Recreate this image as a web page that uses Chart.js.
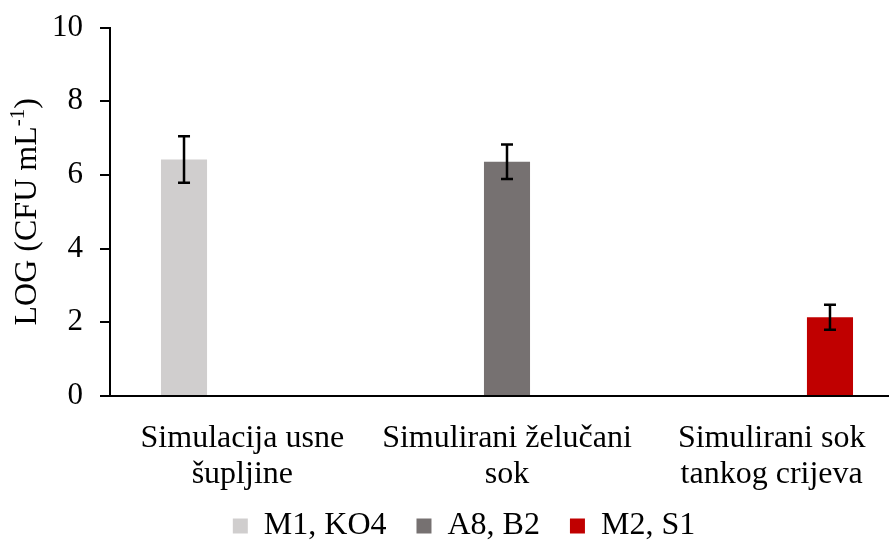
<!DOCTYPE html>
<html>
<head>
<meta charset="utf-8">
<script src="https://cdn.jsdelivr.net/npm/chart.js@4.4.1/dist/chart.umd.min.js"></script>
<style>
  html, body { margin: 0; padding: 0; background: #fff; overflow: hidden; width: 889px; height: 543px; }
  #wrap { width: 920px; height: 572px; position: relative; margin-top: -8px; }
</style>
</head>
<body>
<div id="wrap"><canvas id="c"></canvas></div>
<script>
const categories = [["Simulacija usne", "šupljine"], ["Simulirani želučani", "sok"], ["Simulirani sok", "tankog crijeva"]];
const seriesNames = ["M1, KO4", "A8, B2", "M2, S1"];
const seriesM1KO4 = [6.42, null, null];
const seriesA8B2 = [null, 6.36, null];
const seriesM2S1 = [null, null, 2.14];
const errM1KO4 = [0.63, null, null];
const errA8B2 = [null, 0.47, null];
const errM2S1 = [null, null, 0.34];
const yTicks = [0, 2, 4, 6, 8, 10];
const colors = ["#D0CECE", "#767171", "#C00000"];

const FONT = "'Liberation Serif', 'Times New Roman', serif";

const errorBars = {
  id: 'errorBars',
  afterDatasetsDraw(chart) {
    const ctx = chart.ctx;
    const y = chart.scales.y;
    chart.data.datasets.forEach((ds, di) => {
      const meta = chart.getDatasetMeta(di);
      ds.errors.forEach((e, i) => {
        const v = ds.data[i];
        if (v === null || e === null) return;
        const x = meta.data[i].x;
        const yt = y.getPixelForValue(v + e);
        const yb = y.getPixelForValue(v - e);
        ctx.save();
        ctx.strokeStyle = '#000';
        ctx.lineWidth = 2.5;
        ctx.beginPath();
        ctx.moveTo(x, yt); ctx.lineTo(x, yb);
        ctx.moveTo(x - 6, yt); ctx.lineTo(x + 6, yt);
        ctx.moveTo(x - 6, yb); ctx.lineTo(x + 6, yb);
        ctx.stroke();
        ctx.restore();
      });
    });
  }
};

const yTitle = {
  id: 'yTitle',
  afterDraw(chart) {
    const ctx = chart.ctx;
    const a = chart.chartArea;
    const cy = (a.top + a.bottom) / 2;
    ctx.save();
    ctx.translate(28, cy);
    ctx.rotate(-Math.PI / 2);
    ctx.fillStyle = '#000';
    ctx.textBaseline = 'middle';
    const main = 'LOG (CFU mL';
    const sup = '-1';
    const end = ')';
    ctx.font = '32px ' + FONT;
    const w1 = ctx.measureText(main).width;
    const w3 = ctx.measureText(end).width;
    ctx.font = '21px ' + FONT;
    const w2 = ctx.measureText(sup).width;
    const total = w1 + w2 + w3;
    let x = -total / 2;
    ctx.textAlign = 'left';
    ctx.font = '32px ' + FONT;
    ctx.fillText(main, x, 0);
    x += w1;
    ctx.font = '21px ' + FONT;
    ctx.fillText(sup, x, -10);
    x += w2;
    ctx.font = '32px ' + FONT;
    ctx.fillText(end, x, 0);
    ctx.restore();
  }
};

const legendShift = {
  id: 'legendShift',
  afterLayout(chart) {
    if (chart.legend) {
      chart.legend.top -= 12;
      chart.legend.bottom -= 12;
    }
  }
};

const seriesData = [seriesM1KO4, seriesA8B2, seriesM2S1];
const errData = [errM1KO4, errA8B2, errM2S1];

new Chart(document.getElementById('c'), {
  type: 'bar',
  data: {
    labels: categories,
    datasets: seriesNames.map((n, i) => ({
      label: n,
      data: seriesData[i],
      errors: errData[i],
      backgroundColor: colors[i],
      borderWidth: 0,
      categoryPercentage: 0.661,
      barPercentage: 0.79
    }))
  },
  options: {
    responsive: true,
    maintainAspectRatio: false,
    animation: false,
    devicePixelRatio: 1,
    layout: { padding: { left: 24, right: 16, top: 19, bottom: 0 } },
    plugins: {
      tooltip: { enabled: false },
      legend: {
        position: 'bottom',
        labels: {
          font: { family: FONT, size: 32 },
          color: '#000',
          boxWidth: 15,
          boxHeight: 15,
          padding: 30
        }
      }
    },
    scales: {
      x: {
        grid: { display: false },
        border: { display: true, color: '#000', width: 2 },
        ticks: {
          color: '#000',
          font: { family: FONT, size: 32, lineHeight: 1.125 },
          maxRotation: 0,
          autoSkip: false,
          padding: 17
        },
        afterFit(s) { s.height = 96; }
      },
      y: {
        min: 0, max: 10,
        afterBuildTicks(s) { s.ticks = yTicks.map(v => ({ value: v })); },
        grid: { display: true, drawOnChartArea: false, drawTicks: true, tickLength: 10, color: '#000', lineWidth: 2 },
        border: { display: true, color: '#000', width: 2 },
        ticks: {
          color: '#000',
          font: { family: FONT, size: 31 },
          padding: 17
        },
        afterFit(s) { s.width = 86; }
      }
    }
  },
  plugins: [errorBars, yTitle, legendShift]
});
</script>
</body>
</html>
